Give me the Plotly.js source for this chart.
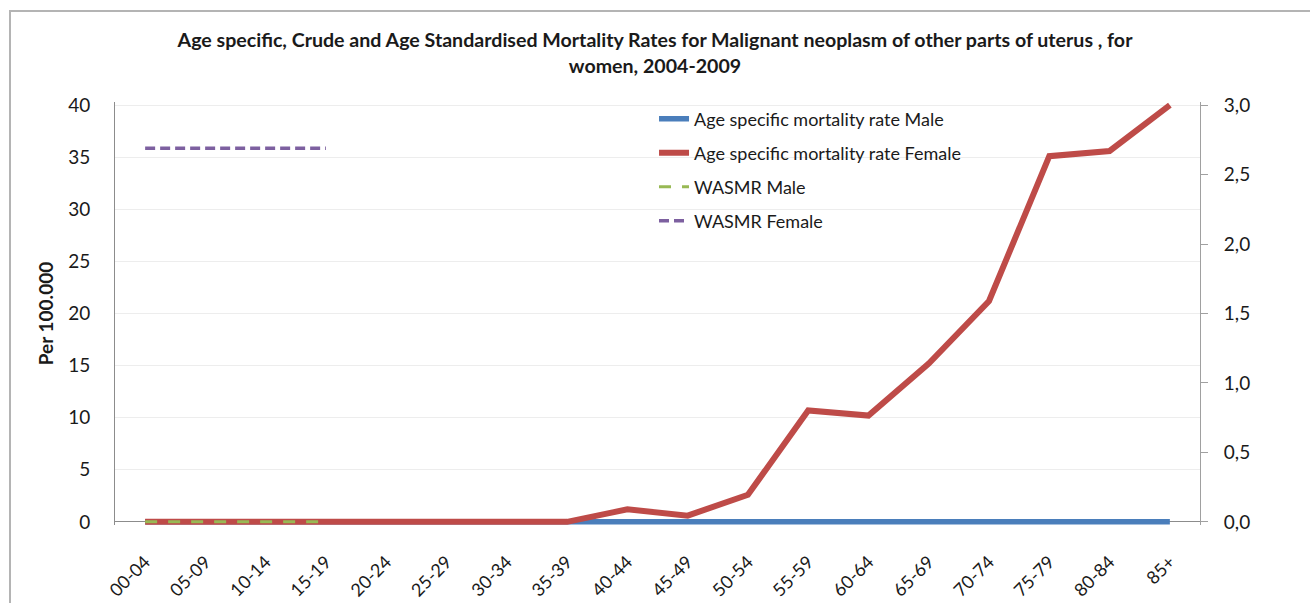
<!DOCTYPE html>
<html>
<head>
<meta charset="utf-8">
<script src="https://cdn.plot.ly/plotly-3.0.1.min.js"></script>
<style>
  html, body { margin: 0; padding: 0; background: #fff; }
  #wrap { position: relative; width: 1310px; height: 603px; overflow: hidden; }
  #chart { width: 1310px; height: 603px; }
  #frame { position: absolute; left: 9px; top: 10px; width: 1400px; height: 700px;
           border-left: 2px solid #b4b4b4; border-top: 2px solid #b4b4b4; pointer-events: none; }
</style>
</head>
<body>
<div id="wrap">
  <div id="chart"></div>
  <div id="frame"></div>
</div>
<script>
// ---- data ----
const ageGroups = ["00-04","05-09","10-14","15-19","20-24","25-29","30-34","35-39","40-44",
                   "45-49","50-54","55-59","60-64","65-69","70-74","75-79","80-84","85+"];
const maleRate   = [0,0,0,0,0,0,0,0,0,0,0,0,0,0,0,0,0,0];
const femaleRate = [0,0,0,0,0,0,0,0,1.2,0.6,2.6,10.7,10.2,15.2,21.2,35.1,35.6,40.0];
const wasmrGroups = ["00-04","05-09","10-14","15-19"];
const wasmrMale   = [0,0,0,0];
const wasmrFemale = [2.69,2.69,2.69,2.69];
const leftTicks  = [0,5,10,15,20,25,30,35,40];
const rightTicks = [0,0.5,1,1.5,2,2.5,3];

const FONT = "Lato, 'Open Sans', sans-serif";
const PAD = 0.3; // small headroom so thick lines at 0 / 40 are not clipped

const traces = [
  { x: ageGroups, y: maleRate, type: "scatter", mode: "lines",
    name: "Age specific mortality rate Male", legend: "legend",
    line: { color: "#4a7ebb", width: 5.5 } },
  { x: ageGroups, y: femaleRate, type: "scatter", mode: "lines",
    name: "Age specific mortality rate Female", legend: "legend2",
    line: { color: "#be4b48", width: 6 } },
  { x: wasmrGroups, y: wasmrMale, type: "scatter", mode: "lines",
    name: "WASMR Male", legend: "legend3",
    line: { color: "#98b954", width: 3, dash: "12px,11px" } },
  { x: wasmrGroups, y: wasmrFemale, type: "scatter", mode: "lines",
    name: "WASMR Female", legend: "legend4", yaxis: "y2",
    line: { color: "#7d60a0", width: 3.5, dash: "10px,5px" } }
];

function lg(y) {
  return { x: 0.4968, xanchor: "left", y: y, yanchor: "middle",
           bgcolor: "rgba(0,0,0,0)", font: { family: FONT, size: 18, color: "#1a1a1a" } };
}

const layout = {
  width: 1310, height: 603,
  paper_bgcolor: "#fff", plot_bgcolor: "#fff",
  margin: { l: 115, r: 110, t: 102, b: 78 },
  separators: ",.",
  font: { family: FONT, color: "#1a1a1a" },
  title: { text: "<b>Age specific, Crude and Age Standardised Mortality Rates for Malignant neoplasm of other parts of uterus , for<br>women, 2004-2009</b>",
           font: { family: FONT, size: 19.6, color: "#1a1a1a" },
           x: 0.5, xanchor: "center", xref: "container", yref: "container", y: 0.922, yanchor: "top" },
  xaxis: { type: "category", categoryorder: "array", categoryarray: ageGroups,
           range: [-0.5, 17.5], tickangle: -45, showgrid: false, zeroline: false,
           showline: false, ticks: "", ticklabelstandoff: 22,
           tickfont: { family: FONT, size: 18, color: "#1a1a1a" } },
  yaxis: { range: [-PAD, 40 + PAD], tickvals: leftTicks, showgrid: true, gridcolor: "#ededed", gridwidth: 1,
           zeroline: true, zerolinecolor: "#8c8c8c", zerolinewidth: 1,
           showline: true, linecolor: "#8c8c8c", linewidth: 1, ticks: "",
           ticklabelstandoff: 20,
           tickfont: { family: FONT, size: 19, color: "#1a1a1a" },
           title: { text: "<b>Per 100.000</b>", font: { family: FONT, size: 19, color: "#1a1a1a" }, standoff: 9 } },
  yaxis2: { overlaying: "y", side: "right", range: [-PAD * 3 / 40, 3 + PAD * 3 / 40], tickvals: rightTicks, tickformat: ".1f",
            showgrid: false, zeroline: false, showline: true, linecolor: "#a0a0a0", linewidth: 1,
            ticks: "outside", ticklen: 7, tickcolor: "#a0a0a0", ticklabelstandoff: 12,
            tickfont: { family: FONT, size: 19, color: "#1a1a1a" } },
  showlegend: true,
  legend: lg(0.9598),
  legend2: lg(0.8794),
  legend3: lg(0.7991),
  legend4: lg(0.7187)
};

Plotly.newPlot("chart", traces, layout, { displayModeBar: false, staticPlot: true });
</script>
</body>
</html>
